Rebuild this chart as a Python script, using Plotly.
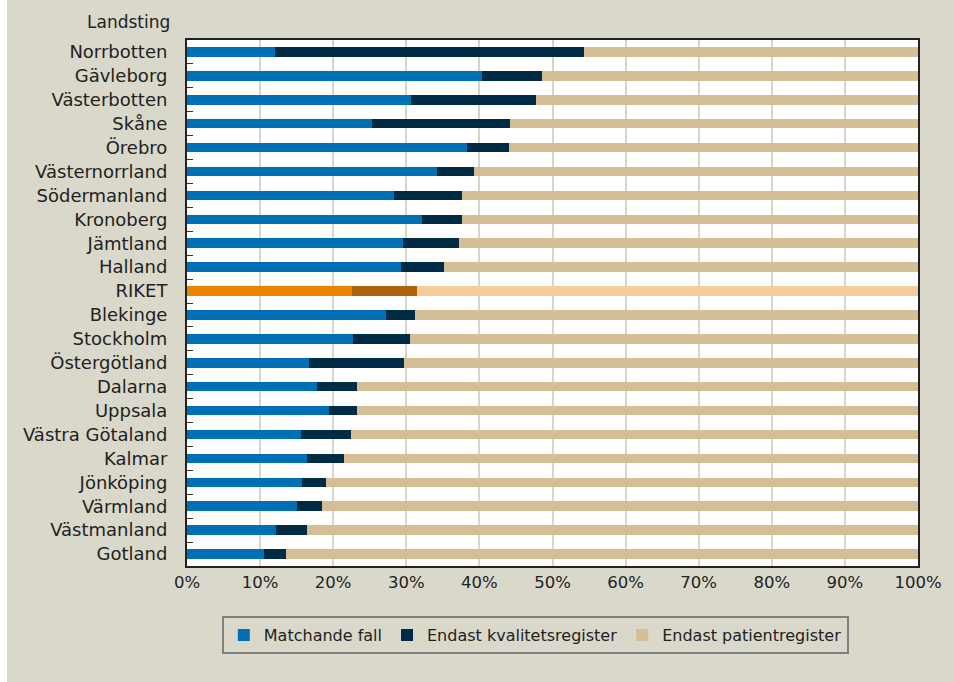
import plotly.graph_objects as go

categories = ["Norrbotten", "Gävleborg", "Västerbotten", "Skåne", "Örebro", "Västernorrland",
              "Södermanland", "Kronoberg", "Jämtland", "Halland", "RIKET", "Blekinge",
              "Stockholm", "Östergötland", "Dalarna", "Uppsala", "Västra Götaland", "Kalmar",
              "Jönköping", "Värmland", "Västmanland", "Gotland"]
matchande = [12.1, 40.3, 30.7, 25.3, 38.3, 34.2, 28.3, 32.2, 29.6, 29.3, 22.6, 27.2,
             22.7, 16.7, 17.8, 19.4, 15.6, 16.4, 15.7, 15.1, 12.2, 10.6]
kvalitet = [42.2, 8.2, 17.1, 18.9, 5.8, 5.1, 9.3, 5.4, 7.6, 5.9, 8.9, 4.0,
            7.8, 13.0, 5.5, 3.8, 6.8, 5.1, 3.3, 3.3, 4.2, 3.0]
patient = [45.7, 51.5, 52.2, 55.8, 55.9, 60.7, 62.4, 62.4, 62.8, 64.8, 68.5, 68.8,
           69.5, 70.3, 76.7, 76.8, 77.6, 78.5, 81.0, 81.6, 83.6, 86.4]
series_names = ["Matchande fall", "Endast kvalitetsregister", "Endast patientregister"]
x_ticks = list(range(0, 101, 10))

base_colors = ["#0070b4", "#002b45", "#d3be96"]
riket_colors = ["#e98300", "#b0620c", "#f5cd9c"]

FONT = "DejaVu Sans"
fig = go.Figure()
for name, vals, bc, rc in zip(series_names, [matchande, kvalitet, patient], base_colors, riket_colors):
    cols = [rc if c == "RIKET" else bc for c in categories]
    fig.add_trace(go.Bar(
        y=categories, x=vals, name=name, orientation="h",
        marker=dict(color=cols, line=dict(width=0)),
        hovertemplate="%{y}: %{x}%<extra>" + name + "</extra>",
    ))

W, H = 954, 682
L, R, T, B = 187, 32, 40, 116
pw, ph = W - L - R, H - T - B

fig.update_layout(
    width=W, height=H,
    margin=dict(l=L, r=R, t=T, b=B),
    barmode="stack", bargap=0.6,
    paper_bgcolor="#ffffff", plot_bgcolor="#ffffff",
    font=dict(family=FONT, size=16, color="#222222"),
    showlegend=True,
    legend=dict(
        orientation="h", x=(222 - L) / pw, xanchor="left", y=(H - B - 616) / ph, yanchor="top",
        bgcolor="#dad8cb", bordercolor="#808080", borderwidth=2,
        font=dict(family=FONT, size=16, color="#222222"),
        traceorder="normal", itemwidth=30,
    ),
    xaxis=dict(
        range=[0, 100], tickvals=x_ticks, ticktext=[f"{v}%" for v in x_ticks],
        showgrid=True, gridcolor="#d9d5c8", gridwidth=1.5,
        showline=True, linecolor="#222222", linewidth=2, mirror=True,
        ticks="", zeroline=False, fixedrange=True,
        tickfont=dict(size=16.5),
    ),
    yaxis=dict(
        categoryorder="array", categoryarray=categories, autorange="reversed",
        showline=True, linecolor="#222222", linewidth=2, mirror=True,
        ticks="inside", ticklen=6, tickcolor="#333333", tickson="boundaries",
        showgrid=False, tickfont=dict(size=18), ticklabelstandoff=14, fixedrange=True,
    ),
    shapes=[
        dict(type="rect", xref="paper", yref="paper", layer="below",
             x0=(6 - L) / pw, x1=(W + 5 - L) / pw, y0=(H - B - H - 5) / ph, y1=(H - B + 5) / ph,
             fillcolor="#dad8cb", line=dict(width=0)),
        dict(type="rect", xref="paper", yref="paper", layer="below",
             x0=0, x1=1, y0=0, y1=1, fillcolor="#ffffff", line=dict(width=0)),
    ],
    annotations=[
        dict(text="Landsting", xref="paper", yref="paper", x=(172 - L) / pw, xanchor="right",
             y=(H - B - 22) / ph, yanchor="middle", showarrow=False,
             font=dict(family=FONT, size=17, color="#222222")),
    ],
)

fig.write_html("out.html", config={"displayModeBar": False},
               post_script="document.body.style.margin='0';document.body.style.overflow='hidden';")
